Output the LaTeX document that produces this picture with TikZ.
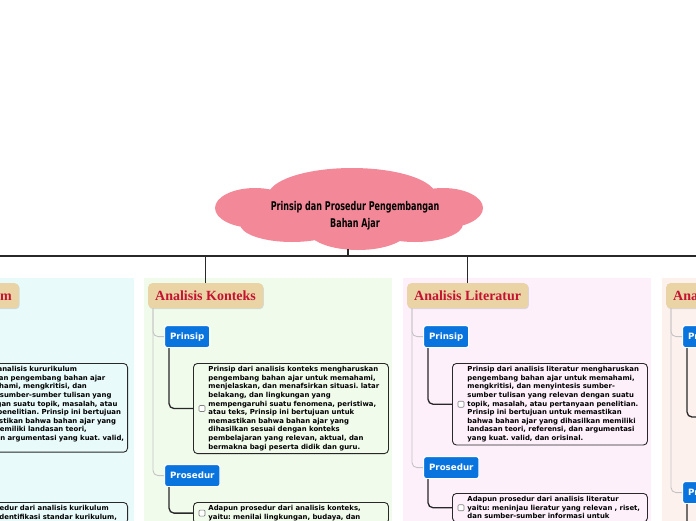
\documentclass[tikz,border=0pt]{standalone}
\usepackage{fontspec}
\usetikzlibrary{shadows}

\newfontfamily\notefont{DejaVu Sans}
\newfontfamily\cloudfont[FakeStretch=0.67]{DejaVu Sans}
\newfontfamily\headfont{Liberation Serif}
\frenchspacing

\definecolor{cloudpink}{RGB}{243,137,152}
\definecolor{headtan}{RGB}{234,212,166}
\definecolor{headred}{RGB}{196,18,48}
\definecolor{subblue}{RGB}{10,116,222}
\definecolor{bgcyan}{RGB}{232,250,250}
\definecolor{bggreen}{RGB}{240,251,235}
\definecolor{bgpink}{RGB}{253,240,251}
\definecolor{bgsalmon}{RGB}{253,241,238}
\definecolor{linedark}{RGB}{40,40,40}
\definecolor{linegray}{RGB}{196,196,196}

\tikzset{
    titletext/.style={align=center,
        font=\cloudfont\bfseries\fontsize{12}{17}\selectfont},
    heading/.style={fill=headtan, rounded corners=4pt, minimum height=25pt,
        inner xsep=7pt, text=headred, anchor=north west,
        font=\headfont\bfseries\fontsize{14}{14}\selectfont,
        drop shadow={opacity=0.25, shadow xshift=0.8pt, shadow yshift=-1pt}},
    subhead/.style={fill=subblue, draw=white, line width=1.2pt,
        rounded corners=2.5pt, minimum height=22pt, inner xsep=5.5pt,
        text=white, anchor=north west,
        font=\notefont\bfseries\fontsize{8.7}{8.7}\selectfont},
    note/.style={draw=linedark, line width=0.9pt, rounded corners=4pt,
        text width=189pt, inner sep=3pt, align=left, anchor=north west,
        font=\notefont\bfseries\fontsize{6.9}{8.6}\selectfont},
    checkbox/.style={draw=gray, fill=white, line width=0.6pt,
        rounded corners=1pt, minimum size=6pt, inner sep=0pt},
    trunk/.style={draw=linedark, line width=1.6pt},
    branch/.style={draw=linegray, line width=0.9pt, rounded corners=5pt},
    link/.style={draw=linedark, line width=1.3pt, rounded corners=5pt},
}

\begin{document}
\begin{tikzpicture}[x=1pt, y=-1pt]
    \useasboundingbox (0,0) rectangle (696,520);
    \clip (0,0) rectangle (696,520);

    % column backgrounds
    \fill[bgcyan] (-115,278) rectangle (134,530);
    \fill[bggreen] (144,278) rectangle (392,530);
    \fill[bgpink] (403,278) rectangle (651,530);
    \fill[bgsalmon] (662,278) rectangle (910,530);

    % cloud
    \foreach \cx/\cy/\rx/\ry in {352/196/84/28, 255/208/40/20, 443/208/40/20,
            292/224/52/18, 358/230/50/20, 415/224/48/18, 350/212/100/22}
        \fill[cloudpink] (\cx,\cy) ellipse[x radius=\rx pt, y radius=\ry pt];
    \node[titletext] (title) at (355,216) {Prinsip dan Prosedur Pengembangan\\Bahan Ajar};
    \coordinate (cloudbottom) at (348,249);

    % Analisis Kurikulum
    \node[heading, anchor=north east] (headA) at (19,283) {Analisis Kurikulum};
    \node[note, anchor=north east, text width=196pt] (noteA1) at (128,363) {\leftskip=22pt
        Prinsip dari analisis kururikulum\\
        mengharuskan pengembang bahan ajar\\
        untuk memahami, mengkritisi, dan\\
        menyintesis sumber-sumber tulisan yang\\
        relevan dengan suatu topik, masalah, atau\\
        pertanyaan penelitian. Prinsip ini bertujuan\\
        untuk memastikan bahwa bahan ajar yang\\
        dihasilkan memiliki landasan teori,\\
        referensi, dan argumentasi yang kuat. valid,\\
        dan orisinal.\par};
    \node[note, anchor=north east, text width=196pt] (noteA2) at (128,502) {\leftskip=22pt
        Adapun prosedur dari analisis kurikulum\\
        yaitu: mengidentifikasi standar kurikulum,\par\vspace*{30pt}};

    % Analisis Konteks
    \node[heading] (headB) at (148,283) {Analisis Konteks};
    \node[subhead] (prinsipB) at (164,325) {Prinsip};
    \node[note] (noteB1) at (193,363) {\leftskip=12pt
        Prinsip dari analisis konteks mengharuskan\\
        pengembang bahan ajar untuk memahami,\\
        menjelaskan, dan menafsirkan situasi. latar\\
        belakang, dan lingkungan yang\\
        mempengaruhi suatu fenomena, peristiwa,\\
        atau teks, Prinsip ini bertujuan untuk\\
        memastikan bahwa bahan ajar yang\\
        dihasilkan sesuai dengan konteks\\
        pembelajaran yang relevan, aktual, dan\\
        bermakna bagi peserta didik dan guru.\par};
    \node[checkbox] (cbB1) at ([xshift=9pt]noteB1.west) {};
    \node[subhead] (prosedurB) at (164,464) {Prosedur};
    \node[note] (noteB2) at (193,502) {\leftskip=12pt
        Adapun prosedur dari analisis konteks,\\
        yaitu: menilai lingkungan, budaya, dan\par\vspace*{30pt}};
    \node[checkbox] (cbB2) at ([xshift=9pt]noteB2.west) {};

    % Analisis Literatur
    \node[heading] (headC) at (407,283) {Analisis Literatur};
    \node[subhead] (prinsipC) at (423,325) {Prinsip};
    \node[note] (noteC1) at (452,363) {\leftskip=12pt
        Prinsip dari analisis literatur mengharuskan\\
        pengembang bahan ajar untuk memahami,\\
        mengkritisi, dan menyintesis sumber-\\
        sumber tulisan yang relevan dengan suatu\\
        topik, masalah, atau pertanyaan penelitian.\\
        Prinsip ini bertujuan untuk memastikan\\
        bahwa bahan ajar yang dihasilkan memiliki\\
        landasan teori, referensi, dan argumentasi\\
        yang kuat. valid, dan orisinal.\par};
    \node[checkbox] (cbC1) at ([xshift=9pt]noteC1.west) {};
    \node[subhead] (prosedurC) at (423,456) {Prosedur};
    \node[note] (noteC2) at (452,493) {\leftskip=12pt
        Adapun prosedur dari analisis literatur\\
        yaitu: meninjau lieratur yang relevan , riset,\\
        dan sumber-sumber informasi untuk\par\vspace*{8.6pt}};
    \node[checkbox] (cbC2) at ([xshift=9pt]noteC2.west) {};

    % fourth column, cut by the edge
    \node[heading] (headD) at (666,283) {Analisis};
    \node[subhead] (prinsipD) at (682,325) {Prinsip};
    \node[subhead] (prosedurD) at (682,481) {Prosedur};
    \coordinate (endD1) at (711,417);
    \coordinate (endD2) at (711,545);

    % connectors
    \coordinate (bus) at (348,256);
    \draw[trunk] (cloudbottom) -- (bus);
    \draw[trunk] (headA.north |- bus) -- (headD.north |- bus);
    \foreach \c in {A,B,C,D}
        \draw[trunk] (head\c.north |- bus) -- (head\c.north);

    \foreach \c in {B,C,D} {
        \draw[branch] ([xshift=5pt]head\c.south west) |- (prinsip\c.west);
        \draw[branch] ([xshift=5pt]head\c.south west) |- (prosedur\c.west);
    }
    \draw[link] ([xshift=5pt]prinsipB.south west) |- (noteB1.west);
    \draw[link] ([xshift=5pt]prosedurB.south west) |- (noteB2.west);
    \draw[link] ([xshift=5pt]prinsipC.south west) |- (noteC1.west);
    \draw[link] ([xshift=5pt]prosedurC.south west) |- (noteC2.west);
    \draw[link] ([xshift=5pt]prinsipD.south west) |- (endD1);
    \draw[link] ([xshift=5pt]prosedurD.south west) |- (endD2);
\end{tikzpicture}
\end{document}
